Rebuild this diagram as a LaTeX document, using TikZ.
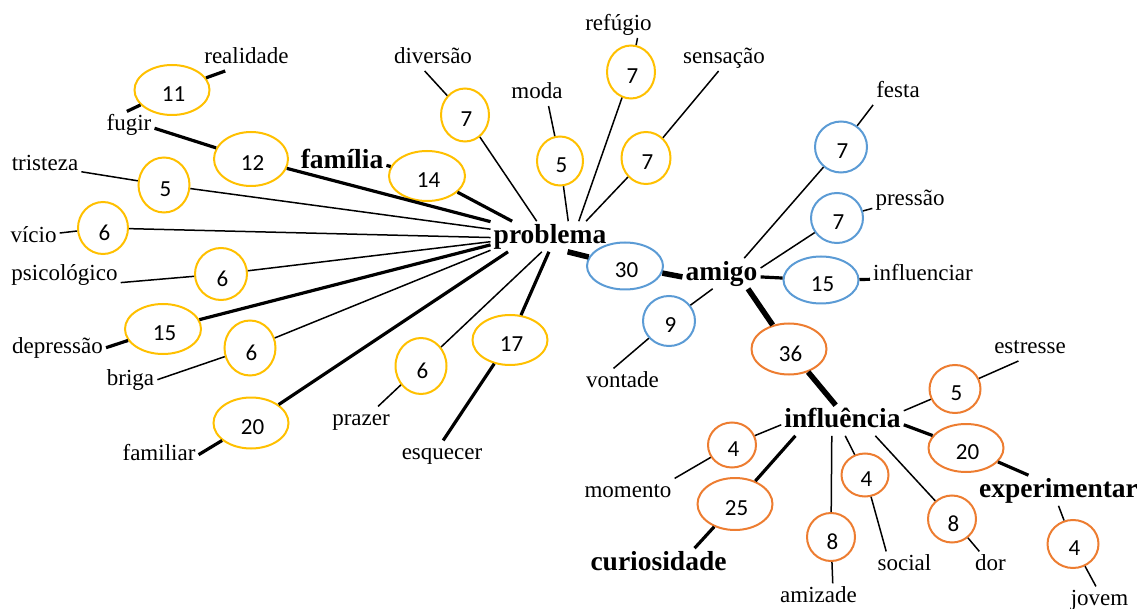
\documentclass[tikz,border=0pt]{standalone}
\usepackage{fontspec}
\setmainfont{Liberation Serif}
\newfontfamily\numfont{Carlito}
\usetikzlibrary{shapes.geometric}
\definecolor{cy}{HTML}{FFC000}
\definecolor{cb}{HTML}{5B9BD5}
\definecolor{co}{HTML}{ED7D31}
\tikzset{
  word/.style={inner sep=3pt, text height=15.6pt, text depth=4.6pt, font=\fontsize{23}{27}\selectfont},
  hub/.style={inner sep=3pt, text height=18.7pt, text depth=5.5pt, font=\bfseries\fontsize{27.5}{32}\selectfont},
  cnt/.style={ellipse, draw=#1, line width=2pt, fill=white, inner sep=0pt},
  sz/.style 2 args={minimum width=#1pt, minimum height=#2pt},
  num/.style={label={[font=\numfont\fontsize{23}{27}\selectfont, xshift=1.5pt, yshift=-4.5pt]center:#1}},
  ln1/.style={line width=1.5pt},
  ln2/.style={line width=3.2pt},
  ln3/.style={line width=5.5pt},
}
\begin{document}
\begin{tikzpicture}[x=1pt,y=-1pt]
\useasboundingbox (0,0) rectangle (1137,609);
% words
\node[word] (realidade) at (246.5,57.7) {realidade};
\node[word] (fugir) at (129,124.7) {fugir};
\node[word] (tristeza) at (45,164.7) {tristeza};
\node[word] (vicio) at (33.5,236.7) {vício};
\node[word] (psicologico) at (64.5,274.7) {psicológico};
\node[word] (depressao) at (57.5,347.7) {depressão};
\node[word] (briga) at (130.5,379.7) {briga};
\node[word] (familiar) at (159,454.7) {familiar};
\node[word] (prazer) at (361,419.7) {prazer};
\node[word] (esquecer) at (442,453.7) {esquecer};
\node[word] (diversao) at (433,57.7) {diversão};
\node[word] (moda) at (537,92.7) {moda};
\node[word] (refugio) at (618.5,24.7) {refúgio};
\node[word] (sensacao) at (724,57.7) {sensação};
\node[word] (festa) at (898,91.7) {festa};
\node[word] (pressao) at (910,199.7) {pressão};
\node[word] (influenciar) at (923,274.7) {influenciar};
\node[word] (vontade) at (622.5,381.7) {vontade};
\node[word] (estresse) at (1030,347.7) {estresse};
\node[word] (momento) at (628,491.7) {momento};
\node[word] (amizade) at (818.5,596.7) {amizade};
\node[word] (social) at (904.5,564.7) {social};
\node[word] (dor) at (990.5,564.7) {dor};
\node[word] (jovem) at (1099.5,599.7) {jovem};
% hubs
\node[hub] (problema) at (550,236.5) {problema};
\node[hub] (familia) at (342,161.5) {família};
\node[hub] (amigo) at (721.5,273.5) {amigo};
\node[hub] (influencia) at (842.5,420.5) {influência};
\node[hub] (experimentar) at (1058.5,490.5) {experimentar};
\node[hub] (curiosidade) at (658.5,563.5) {curiosidade};
% counts: yellow
\node[cnt=cy, sz={75}{50}, num=11] (e11) at (172,90) {};
\node[cnt=cy, sz={74}{54}, num=12] (e12) at (251,159) {};
\node[cnt=cy, sz={51}{55}, num=5] (e5a) at (164,185) {};
\node[cnt=cy, sz={50}{52}, num=6] (e6a) at (103,228) {};
\node[cnt=cy, sz={52}{52}, num=6] (e6b) at (221,274) {};
\node[cnt=cy, sz={76}{50}, num=15] (e15a) at (163,329) {};
\node[cnt=cy, sz={51}{55}, num=6] (e6c) at (250,348) {};
\node[cnt=cy, sz={75}{51}, num=20] (e20a) at (251,423) {};
\node[cnt=cy, sz={51}{56}, num=6] (e6d) at (421,366) {};
\node[cnt=cy, sz={75}{50}, num=17] (e17) at (510,340) {};
\node[cnt=cy, sz={48}{53}, num=7] (e7a) at (465,115) {};
\node[cnt=cy, sz={76}{50}, num=14] (e14) at (427,176) {};
\node[cnt=cy, sz={46}{49}, num=5] (e5b) at (560,161) {};
\node[cnt=cy, sz={48}{53}, num=7] (e7b) at (631,72) {};
\node[cnt=cy, sz={49}{52}, num=7] (e7c) at (646,158) {};
% counts: blue
\node[cnt=cb, sz={52}{51}, num=7] (e7d) at (841,147) {};
\node[cnt=cb, sz={52}{50}, num=7] (e7e) at (837,218) {};
\node[cnt=cb, sz={76}{47}, num=30] (e30) at (625,266) {};
\node[cnt=cb, sz={75}{47}, num=15] (e15b) at (821,280) {};
\node[cnt=cb, sz={52}{50}, num=9] (e9) at (669,321) {};
% counts: orange
\node[cnt=co, sz={75}{51}, num=36] (e36) at (789,349) {};
\node[cnt=co, sz={51}{48}, num=5] (e5c) at (955,389) {};
\node[cnt=co, sz={48}{45}, num=4] (e4a) at (732,445) {};
\node[cnt=co, sz={75}{52}, num=25] (e25) at (735,504) {};
\node[cnt=co, sz={48}{48}, num=8] (e8a) at (831,537) {};
\node[cnt=co, sz={47}{43}, num=4] (e4b) at (865,475) {};
\node[cnt=co, sz={48}{47}, num=8] (e8b) at (952,519) {};
\node[cnt=co, sz={75}{48}, num=20] (e20b) at (966,448) {};
\node[cnt=co, sz={51}{48}, num=4] (e4c) at (1073,544) {};
% connectors: problema
\draw[ln2] (realidade.212) -- (e11) -- (fugir.99);
\draw[ln2] (fugir.352) -- (e12) -- (problema.166);
\draw[ln1] (tristeza.349) -- (e5a) -- (problema.173);
\draw[ln1] (vicio.8) -- (e6a) -- (problema.181);
\draw[ln1] (psicologico.352) -- (e6b) -- (problema.185);
\draw[ln2] (depressao.east) -- (e15a) -- (problema.188);
\draw[ln1] (briga.east) -- (e6c) -- (problema.193);
\draw[ln2] (familiar.east) -- (e20a) -- (problema.200);
\draw[ln1] (prazer.38) -- (e6d) -- (problema.242);
\draw[ln2] (esquecer.85) -- (e17) -- (problema.266);
\draw[ln1] (diversao.238) -- (e7a) -- (problema.131);
\draw[ln2] (familia.355) -- (e14) -- (problema.158);
\draw[ln1] (moda.311) -- (e5b) -- (problema.40);
\draw[ln1] (refugio.325) -- (e7b) -- (problema.28);
\draw[ln1] (sensacao.248) -- (e7c) -- (problema.23);
\draw[ln3] (problema.319) -- (e30) -- (amigo.185);
% connectors: amigo
\draw[ln1] (festa.208) -- (e7d) -- (amigo.34);
\draw[ln1] (pressao.193) -- (e7e) -- (amigo.8);
\draw[ln2] (influenciar.185) -- (e15b) -- (amigo.355);
\draw[ln1] (vontade.124) -- (e9) -- (amigo.240);
\draw[ln3] (amigo.330) -- (e36) -- (influencia.114);
% connectors: influencia
\draw[ln1] (estresse.229) -- (e5c) -- (influencia.9);
\draw[ln2] (experimentar.153) -- (e20b) -- (influencia.356);
\draw[ln1] (momento.north east) -- (e4a) -- (influencia.184);
\draw[ln2] (curiosidade.23) -- (e25) -- (influencia.198);
\draw[ln1] (amizade.43) -- (e8a) -- (influencia.235);
\draw[ln1] (social.144) -- (e4b) -- (influencia.280);
\draw[ln1] (dor.130) -- (e8b) -- (influencia.335);
\draw[ln1] (jovem.105) -- (e4c) -- (experimentar.south);
\end{tikzpicture}
\end{document}
